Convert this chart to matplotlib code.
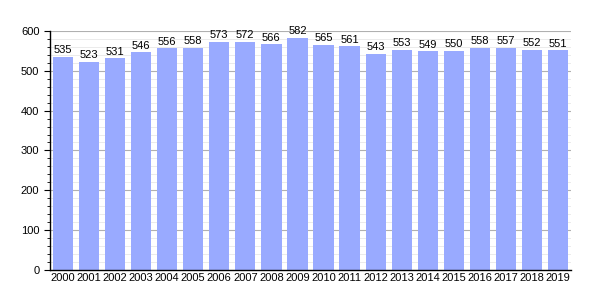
import matplotlib.pyplot as plt
from matplotlib.ticker import MultipleLocator

plt.rcParams['font.family'] = ['Liberation Sans', 'DejaVu Sans']

years = [str(y) for y in range(2000, 2020)]
values = [535, 523, 531, 546, 556, 558, 573, 572, 566, 582,
          565, 561, 543, 553, 549, 550, 558, 557, 552, 551]

fig = plt.figure(figsize=(6, 3), dpi=100)
ax = fig.add_axes([0.083, 0.1, 0.869, 0.797])

x = range(len(years))
bars = ax.bar(x, values, width=0.78, color='#99aaff', zorder=2)

ax.set_xlim(-0.5, len(years) - 0.5)
ax.set_ylim(0, 600)
ax.yaxis.set_major_locator(MultipleLocator(100))
ax.yaxis.set_minor_locator(MultipleLocator(20))
ax.grid(axis='y', which='major', color='#b0b0b0', linewidth=0.8, zorder=0)
ax.grid(axis='y', which='minor', color='#e8e8e8', linewidth=0.6, zorder=0)

ax.set_xticks(list(x))
ax.set_xticklabels(years, fontsize=8)
ax.tick_params(axis='x', length=0, pad=2)
ax.tick_params(axis='y', labelsize=8, length=4, width=0.8)
ax.tick_params(axis='y', which='minor', length=2, width=0.6)

for s in ['top', 'right']:
    ax.spines[s].set_visible(False)
ax.spines['left'].set_linewidth(1)
ax.spines['bottom'].set_linewidth(1)

for xi, v in zip(x, values):
    ax.text(xi, v + 4, str(v), ha='center', va='bottom', fontsize=8)

fig.savefig('out.png', dpi=100)
